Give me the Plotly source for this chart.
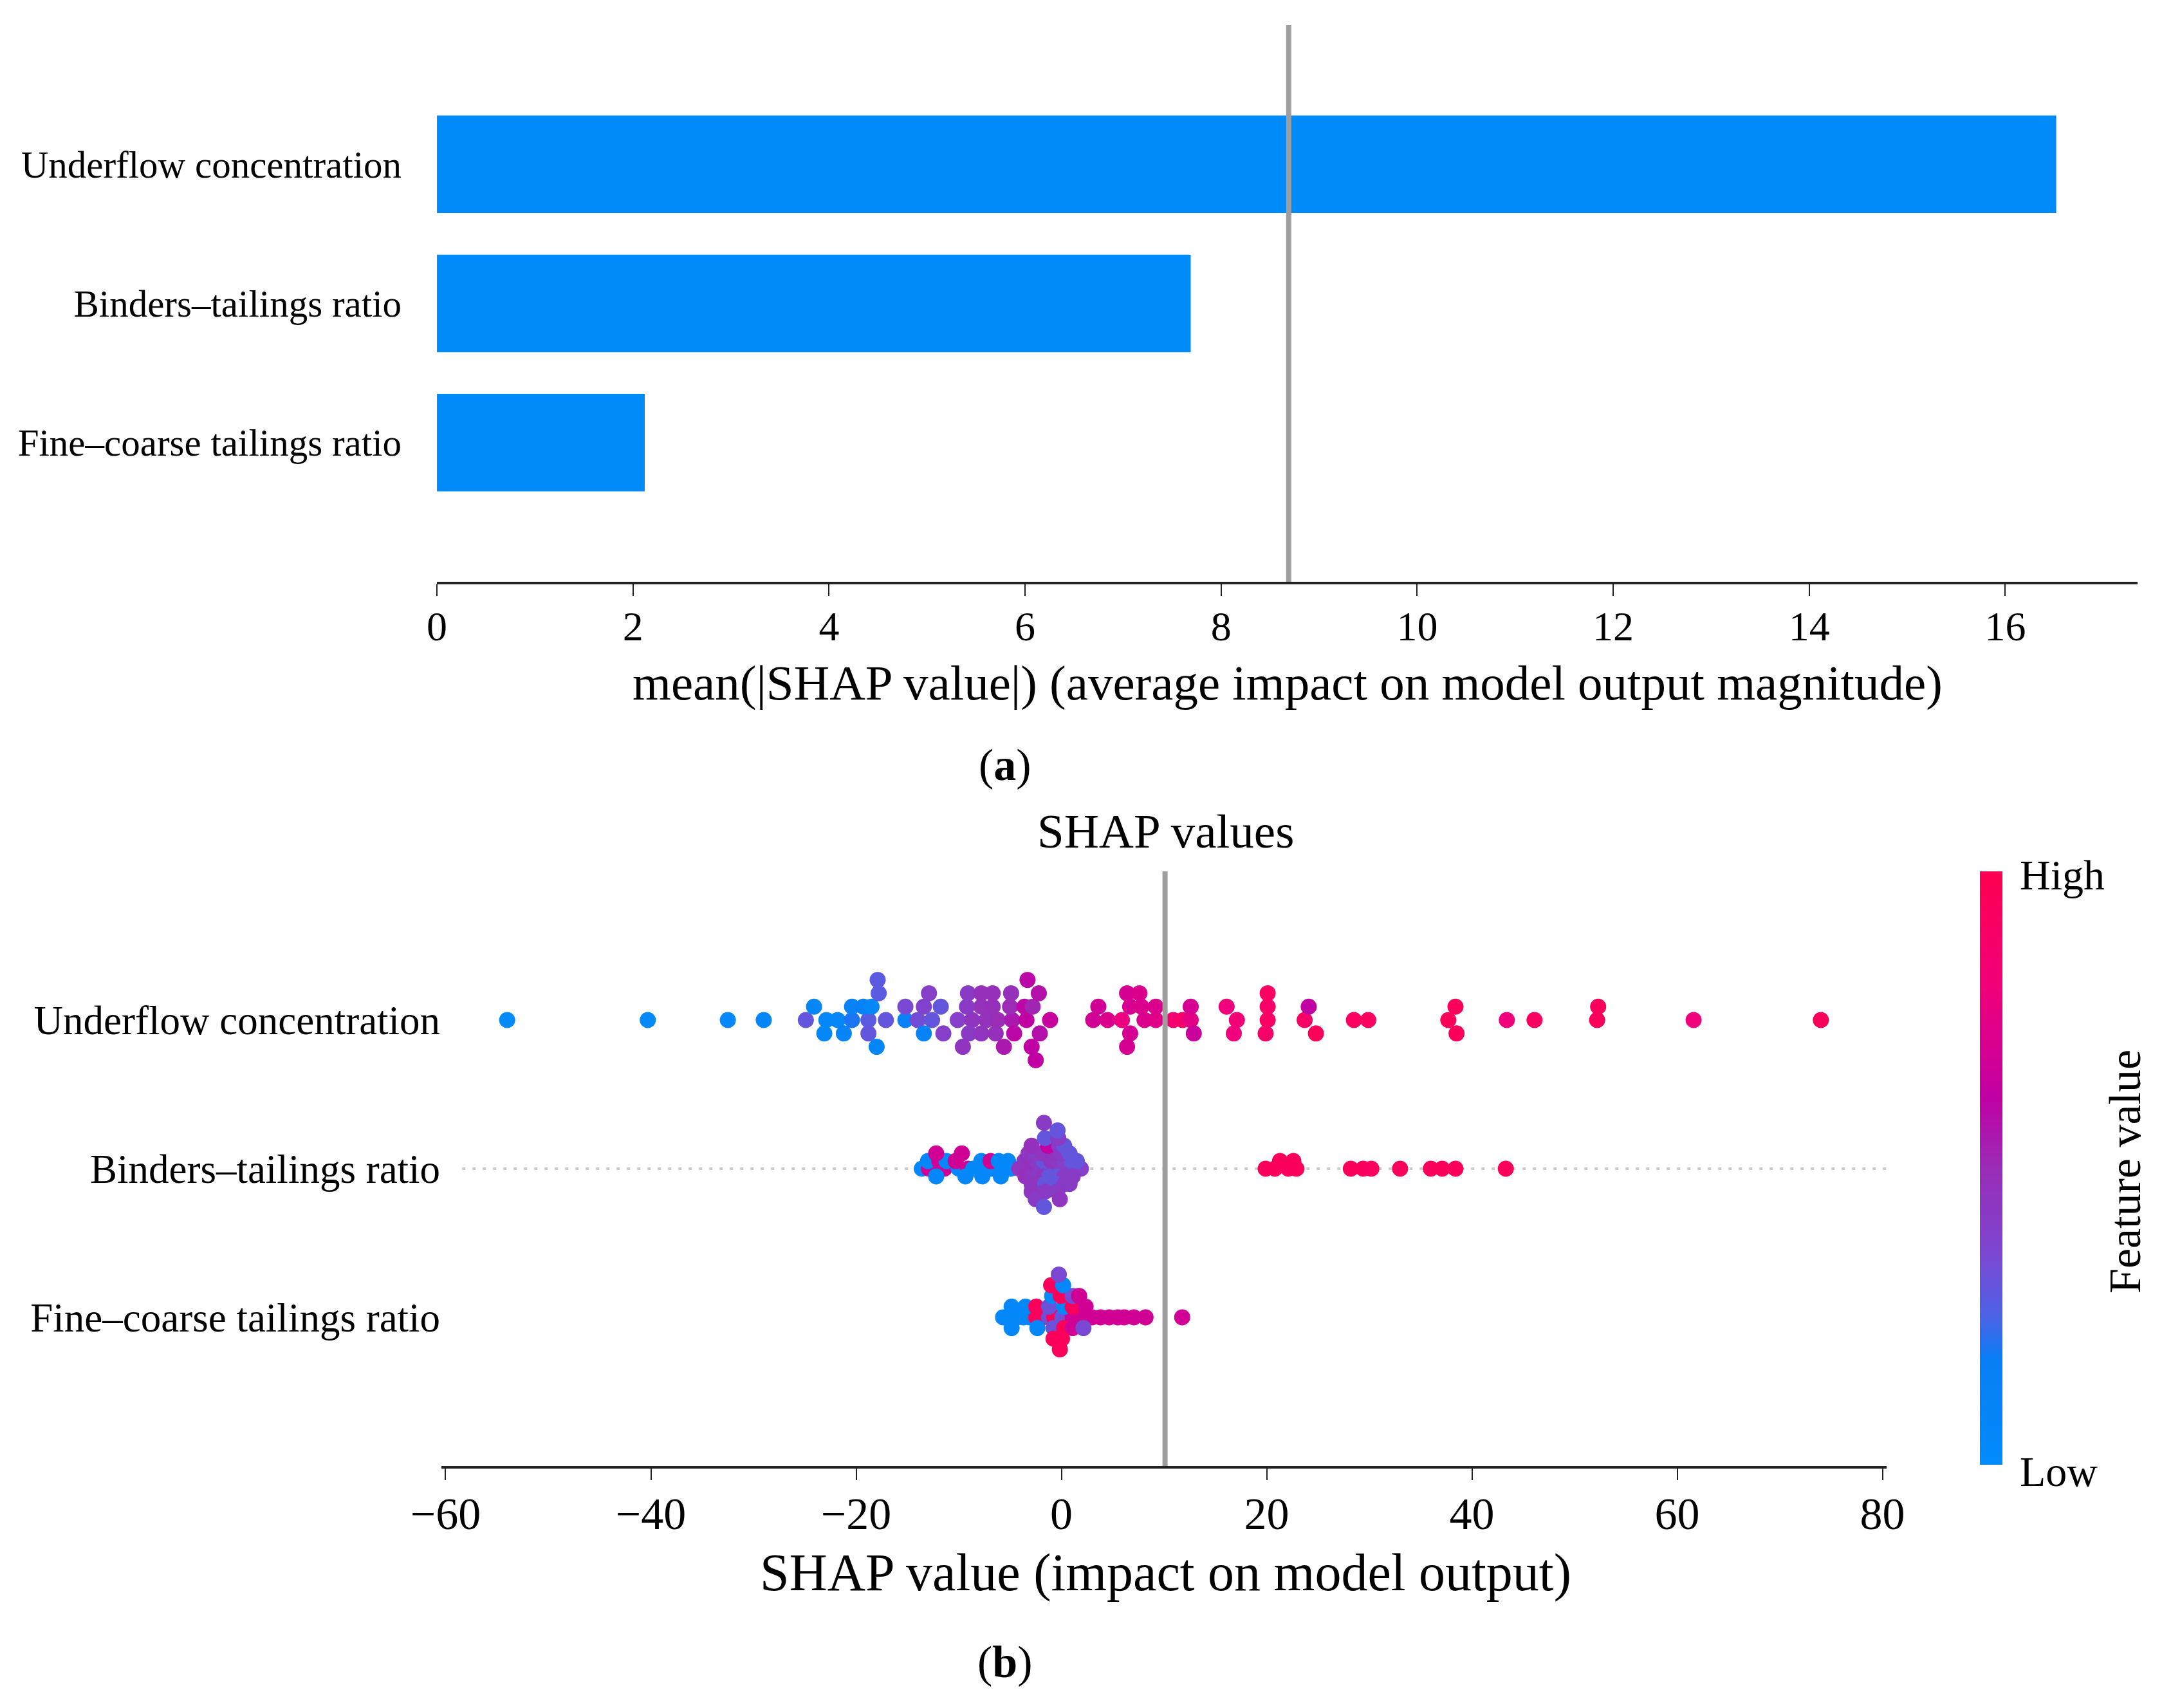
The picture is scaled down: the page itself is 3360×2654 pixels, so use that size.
import plotly.graph_objects as go

# feature names, bottom row first (y = 0, 1, 2)
features = ['Fine\u2013coarse tailings ratio', 'Binders\u2013tailings ratio', 'Underflow concentration']

# (a) mean(|SHAP|) per feature, same order
mean_abs_shap = [2.12, 7.69, 16.52]
bar_ref_line = 8.69

# (b) beeswarm: shap value, swarm layer, normalised feature value
uf_shap = [-54.0, -40.3, -32.5, -29.0, -24.9, -22.9, -21.8, -20.4, -18.8, -17.1,
           -15.2, -14.0, -12.6, -10.1, -8.7, -7.3, -6.2, -4.8, -3.4, -1.1,
           3.1, 4.5, 5.9, 8.1, 9.2, 10.9, 11.8, 12.6, 17.1, 20.1,
           23.7, 28.5, 29.9, 37.7, 43.4, 46.1, 52.2, 61.6, 74.0,
           -24.1, -20.4, -19.3, -18.5, -15.2, -13.4, -11.75, -9.2, -7.8, -6.7,
           -5.0, -3.6, -2.8, 3.6, 6.7, 7.8, 9.2, 12.6, 16.1, 20.1,
           24.1, 38.4, 52.3,
           -17.8, -12.9, -9.1, -7.8, -6.7, -4.9, -2.2, 6.4, 7.6, 20.1,
           -17.9, -3.3,
           -23.1, -21.2, -18.8, -13.4, -11.5, -9.0, -7.8, -6.4, -4.6, -2.1,
           6.7, 12.9, 16.8, 19.9, 24.8, 38.5,
           -18.0, -9.6, -5.6, -2.9, 6.4,
           -2.5]
uf_layer = [0, 0, 0, 0, 0, 0, 0, 0, 0, 0,
            0, 0, 0, 0, 0, 0, 0, 0, 0, 0,
            0, 0, 0, 0, 0, 0, 0, 0, 0, 0,
            0, 0, 0, 0, 0, 0, 0, 0, 0,
            1, 1, 1, 1, 1, 1, 1, 1, 1, 1,
            1, 1, 1, 1, 1, 1, 1, 1, 1, 1,
            1, 1, 1,
            2, 2, 2, 2, 2, 2, 2, 2, 2, 2,
            3, 3,
            -1, -1, -1, -1, -1, -1, -1, -1, -1, -1,
            -1, -1, -1, -1, -1, -1,
            -2, -2, -2, -2, -2,
            -3]
uf_feat = [0.03, 0.03, 0.05, 0.08, 0.3, 0.05, 0.06, 0.2, 0.28, 0.3,
           0.12, 0.33, 0.3, 0.4, 0.45, 0.47, 0.5, 0.55, 0.62, 0.65,
           0.68, 0.72, 0.78, 0.72, 0.74, 0.85, 0.88, 0.75, 0.82, 0.92,
           0.9, 0.92, 0.92, 0.95, 0.8, 0.92, 0.95, 0.8, 0.95,
           0.08, 0.12, 0.15, 0.05, 0.35, 0.38, 0.3, 0.42, 0.47, 0.48,
           0.5, 0.6, 0.52, 0.68, 0.7, 0.72, 0.72, 0.7, 0.8, 0.9,
           0.62, 0.95, 0.95,
           0.28, 0.4, 0.42, 0.48, 0.48, 0.48, 0.58, 0.7, 0.72, 0.92,
           0.28, 0.6,
           0.05, 0.1, 0.3, 0.12, 0.4, 0.42, 0.45, 0.48, 0.6, 0.58,
           0.7, 0.65, 0.8, 0.88, 0.95, 0.95,
           0.08, 0.45, 0.55, 0.62, 0.7,
           0.62]

bt_shap = [19.9, 20.8, 22.1, 22.9, 28.2, 29.4, 30.2, 33.0, 36.0, 37.1, 38.4, 43.3,
           21.3, 22.6,
           -13.6, -12.9, -11.4, -10.0, -9.1, -8.1, -6.8, -4.95, -8.6, -5.8,
           -13.0, -11.9, -11.2, -10.3, -7.8, -6.9, -6.1, -5.2,
           -12.2, -9.7,
           -12.2, -9.35, -7.7, -5.9,
           -4.1, -3.6, -3.1, -2.6, -2.1, -1.6, -1.1, -0.6, -0.1, 0.4, 0.9, 1.4, 1.9,
           -3.6, -3.0, -2.4, -1.7, -1.0, -0.3, 0.3, 1.0, 1.5,
           -3.5, -2.9, -2.4, -1.7, -1.2, -0.4, 0.3, 1.0, 1.1,
           -3.2, -2.5, -1.8, -0.8, 0.0, 0.8,
           -2.9, -2.0, -1.6, -0.5, 0.3, 0.8,
           -2.9, -1.3, -0.2, 0.27,
           -2.9, -1.6, -0.4,
           -1.6, -0.3,
           -2.5, -0.15,
           -0.37,
           -1.7,
           -1.7]
bt_layer = [0, 0, 0, 0, 0, 0, 0, 0, 0, 0, 0, 0,
            1, 1,
            0, 0, 0, 0, 0, 0, 0, 0, 0, 0,
            1, 1, 1, 1, 1, 1, 1, 1,
            2, 2,
            -1, -1, -1, -1,
            0, 0, 0, 0, 0, 0, 0, 0, 0, 0, 0, 0, 0,
            1, 1, 1, 1, 1, 1, 1, 1, 1,
            -1, -1, -1, -1, -1, -1, -1, -1, -1,
            2, 2, 2, 2, 2, 2,
            -2, -2, -2, -2, -2, -2,
            3, 3, 3, 3,
            -3, -3, -3,
            4, 4,
            -4, -4,
            5,
            -5,
            6]
bt_feat = [0.95, 0.95, 0.93, 0.95, 0.95, 0.95, 0.93, 0.95, 0.95, 0.95, 0.95, 0.95,
           0.95, 0.95,
           0.05, 0.68, 0.68, 0.05, 0.68, 0.7, 0.05, 0.05, 0.05, 0.05,
           0.05, 0.68, 0.05, 0.68, 0.05, 0.68, 0.05, 0.05,
           0.68, 0.68,
           0.05, 0.05, 0.05, 0.05,
           0.45, 0.45, 0.48, 0.45, 0.42, 0.3, 0.45, 0.42, 0.3, 0.42, 0.3, 0.4, 0.4,
           0.45, 0.48, 0.42, 0.3, 0.45, 0.42, 0.4, 0.3, 0.3,
           0.48, 0.45, 0.42, 0.45, 0.3, 0.3, 0.42, 0.4, 0.42,
           0.45, 0.42, 0.45, 0.45, 0.42, 0.3,
           0.45, 0.45, 0.3, 0.3, 0.42, 0.42,
           0.48, 0.62, 0.42, 0.3,
           0.45, 0.42, 0.42,
           0.3, 0.42,
           0.42, 0.45,
           0.3,
           0.3,
           0.42]

fc_shap = [-5.68, -4.85, -4.3, -3.7, -3.1, -2.45, -1.8, -1.2, -0.7, -0.36,
           0.1, 0.58, 1.1, 1.6, 2.15, 2.99, 3.82, 4.66, 5.5, 6.12,
           7.06, 8.2, 11.77,
           -4.85, -3.49, -2.45, -1.2, 0.27, 1.1, 2.36,
           -0.9, -0.06, 1.1, 1.73,
           -1.0, 0.17,
           -0.25,
           -4.85, -2.34, -0.77, 0.27, 1.1, 2.15,
           -0.77, 0.06,
           -0.15]
fc_layer = [0, 0, 0, 0, 0, 0, 0, 0, 0, 0,
            0, 0, 0, 0, 0, 0, 0, 0, 0, 0,
            0, 0, 0,
            1, 1, 1, 1, 1, 1, 1,
            2, 2, 2, 2,
            3, 3,
            4,
            -1, -1, -1, -1, -1, -1,
            -2, -2,
            -3]
fc_feat = [0.05, 0.05, 0.05, 0.05, 0.08, 0.95, 0.95, 0.32, 0.95, 0.95,
           0.3, 0.35, 0.68, 0.68, 0.68, 0.68, 0.68, 0.68, 0.68, 0.68,
           0.68, 0.68, 0.68,
           0.05, 0.05, 0.95, 0.32, 0.05, 0.95, 0.68,
           0.05, 0.95, 0.35, 0.68,
           0.95, 0.05,
           0.35,
           0.05, 0.05, 0.32, 0.95, 0.68, 0.35,
           0.95, 0.95,
           0.95]
swarm_ref_line = 10.1

rows = [(fc_shap, fc_layer, fc_feat), (bt_shap, bt_layer, bt_feat), (uf_shap, uf_layer, uf_feat)]

red_blue = [[0.0, '#008bfb'], [0.18, '#0a7ef5'], [0.25, '#4c63e6'], [0.35, '#7a48d2'],
            [0.5, '#9a2cb6'], [0.62, '#c000a3'], [0.8, '#f0007a'], [1.0, '#ff0051']]

FONT = 'Liberation Serif, Times New Roman, serif'
W, H = 3360, 2654
# the page body adds an 8px margin, so pull everything back by that much
DX, DY = 8 / W, 8 / H

fig = go.Figure()

fig.add_trace(go.Bar(
    x=mean_abs_shap, y=[0, 1, 2], orientation='h', width=0.7,
    marker=dict(color='#008bfb', line_width=0),
    xaxis='x', yaxis='y', showlegend=False))

# beeswarm rows, layer spacing as shap does it: 0.9 * 0.4 / (max layer + 1)
for i, (sv, lay, fv) in enumerate(rows):
    step = 0.36 / (max(lay) + 1)
    fig.add_trace(go.Scatter(
        x=sv, y=[i + l * step for l in lay], mode='markers',
        marker=dict(size=25, color=fv, coloraxis='coloraxis', line_width=0),
        xaxis='x2', yaxis='y2', showlegend=False))

axis_common = dict(showgrid=False, zeroline=False, showline=True, linecolor='#222222',
                   linewidth=4, ticks='outside', ticklen=18, tickwidth=2, tickcolor='#222222',
                   automargin=False, ticklabelstandoff=-8)


def ann(text, x, y, size, **kw):
    return dict(text=text, x=x - DX, y=y + DY, xref='paper', yref='paper', showarrow=False,
                xanchor=kw.pop('xanchor', 'center'), yanchor='middle', font=dict(size=size), **kw)


fig.update_layout(
    width=W, height=H,
    margin=dict(l=0, r=0, t=0, b=0, autoexpand=False),
    paper_bgcolor='white', plot_bgcolor='white',
    font=dict(family=FONT, color='black'),
    xaxis=dict(domain=[0.2021 - DX, 0.9887 - DX], range=[0, 17.35], anchor='y',
               tickvals=list(range(0, 17, 2)), tickfont=dict(size=64), **axis_common),
    yaxis=dict(domain=[0.6594 + DY, 0.9853 + DY], range=[-1, 3], anchor='x', automargin=False,
               tickvals=[0, 1, 2], ticktext=features, showline=False, ticks='',
               showgrid=False, zeroline=False, tickfont=dict(size=59), ticklabelstandoff=54),
    xaxis2=dict(domain=[0.2042 - DX, 0.8726 - DX], range=[-60.4, 80.4], anchor='y2',
                tickvals=list(range(-60, 81, 20)), tickfont=dict(size=70), **axis_common),
    yaxis2=dict(domain=[0.1417 + DY, 0.4898 + DY], range=[-1, 3], anchor='x2', automargin=False,
                tickvals=[0, 1, 2], ticktext=features, showline=False, ticks='',
                showgrid=False, zeroline=False, tickfont=dict(size=63), ticklabelstandoff=1),
    coloraxis=dict(cmin=0, cmax=1, colorscale=red_blue,
                   colorbar=dict(x=0.9158 - DX, xanchor='left', y=0.3161 + DY, yanchor='middle',
                                 len=922, lenmode='pixels', thickness=35,
                                 outlinewidth=0, showticklabels=False, ticks='', xpad=0, ypad=0)),
    shapes=[
        dict(type='line', xref='x', yref='y domain', x0=bar_ref_line, x1=bar_ref_line,
             y0=0, y1=1, line=dict(color='#9e9e9e', width=8)),
        dict(type='line', xref='x2 domain', yref='y2', x0=0.0143, x1=1.0, y0=1, y1=1,
             layer='below', line=dict(color='#cccccc', width=4, dash='5px,11px')),
        dict(type='line', xref='x2', yref='y2 domain', x0=swarm_ref_line, x1=swarm_ref_line,
             y0=0, y1=1, line=dict(color='#9e9e9e', width=8)),
    ],
    annotations=[
        ann('mean(|SHAP value|) (average impact on model output magnitude)', 0.5955, 0.6002, 77),
        ann('(<b>a</b>)', 0.4649, 0.552, 70),
        ann('SHAP values', 0.539, 0.5132, 75),
        ann('SHAP value (impact on model output)', 0.539, 0.0795, 82),
        ann('(<b>b</b>)', 0.4649, 0.0271, 70),
        ann('High', 0.9336, 0.4879, 66, xanchor='left'),
        ann('Low', 0.9336, 0.1383, 66, xanchor='left'),
        ann('Feature value', 0.9827, 0.3142, 70, textangle=-90),
    ],
)

fig.write_html('out.html')
